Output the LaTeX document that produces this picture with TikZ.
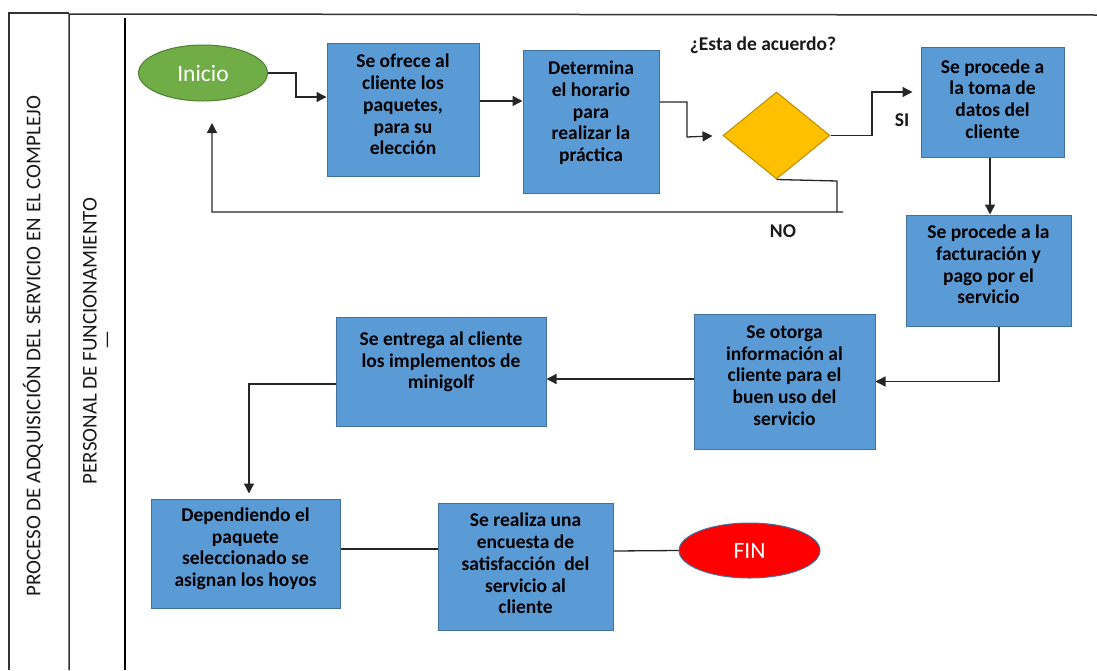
\documentclass[tikz,border=0pt]{standalone}
\usepackage{fontspec}
\setmainfont{Carlito}
\usetikzlibrary{shapes.geometric,arrows.meta}
\definecolor{boxblue}{HTML}{5B9BD5}
\definecolor{boxline}{HTML}{41719C}
\definecolor{startgreen}{HTML}{70AD47}
\definecolor{startline}{HTML}{507E32}
\definecolor{decyellow}{HTML}{FFC000}
\definecolor{decline}{HTML}{BC8C00}
\definecolor{endred}{HTML}{FF0000}
\definecolor{laneline}{HTML}{333333}
\tikzset{
  procbox/.style={rectangle, draw=boxline, fill=boxblue, line width=1pt, inner sep=0pt,
    align=center, text=black, font=\bfseries\fontsize{19.5}{21.7}\selectfont},
  term/.style={ellipse, line width=1pt, inner sep=0pt, text=white,
    font=\fontsize{23.5}{26}\selectfont},
  conn/.style={line width=1.3pt, draw=black!85},
  arr/.style={conn, -{Triangle[length=10pt,width=10pt]}},
  lbl/.style={font=\bfseries\fontsize{19.5}{21.7}\selectfont, text=black!90, inner sep=0pt},
  lanetext/.style={rotate=90, font=\fontsize{21}{25}\selectfont, text=black!90, inner sep=0pt},
  lane/.style={line width=1.5pt, draw=laneline}
}
\begin{document}
\begin{tikzpicture}[x=1pt,y=-1pt]
\useasboundingbox (0,0) rectangle (1097,670);
% lanes
\draw[lane] (9,670) -- (9,13) -- (69,13);
\draw[lane] (69,670) -- (69,14) -- (1097,15);
\draw[line width=2.6pt, black] (125,18) -- (125,670);
\node[lanetext] (lane1) at (33,346) {PROCESO DE ADQUISICIÓN DEL SERVICIO EN EL COMPLEJO};
\node[lanetext] (lane2) at (90,341) {PERSONAL DE FUNCIONAMIENTO};
\node[lanetext] (lane2b) at (110,340) {—};
% nodes
\node[term, draw=startline, fill=startgreen, minimum width=129pt, minimum height=56pt] (ini) at (203,73) {Inicio};
\node[procbox, text depth=10pt, minimum width=152pt, minimum height=133pt] (b1) at (403,109.5) {Se ofrece al\\cliente los\\paquetes,\\para su\\elección};
\node[procbox, text depth=20.5pt, minimum width=136pt, minimum height=143pt] (b2) at (591,121.5) {Determina\\el horario\\para\\realizar la\\práctica};
\node[diamond, draw=decline, fill=decyellow, line width=1pt, inner sep=0pt, minimum width=107pt, minimum height=87pt] (dec) at (776.5,135.5) {};
\node[procbox, text depth=6pt, minimum width=143pt, minimum height=110pt] (b3) at (992.5,102) {Se procede a\\la toma de\\datos del\\cliente};
\node[procbox, text depth=12pt, minimum width=165pt, minimum height=111pt] (b4) at (988.5,270.5) {Se procede a la\\facturación y\\pago por el\\servicio};
\node[procbox, text depth=12pt, minimum width=181pt, minimum height=135pt] (b5) at (784.5,381.5) {Se otorga\\información al\\cliente para el\\buen uso del\\servicio};
\node[procbox, text depth=22.5pt, minimum width=210pt, minimum height=109pt] (b6) at (441,371.5) {Se entrega al cliente\\los implementos de\\minigolf};
\node[procbox, text depth=12.5pt, minimum width=189pt, minimum height=109pt] (b7) at (245.5,553.5) {Dependiendo el\\paquete\\seleccionado se\\asignan los hoyos};
\node[procbox, text depth=6pt, minimum width=175pt, minimum height=127pt] (b8) at (525.5,566.5) {Se realiza una\\encuesta de\\satisfacción\ \ del\\servicio al\\cliente};
\node[term, draw=boxline, fill=endred, minimum width=141pt, minimum height=55pt] (fin) at (749.5,550.5) {FIN};
% labels
\node[lbl] (q) at (763,45) {¿Esta de acuerdo?};
\node[lbl] (si) at (902,120) {SI};
\node[lbl] (no) at (783,231) {NO};
% connectors
\draw[arr] (ini.east) -| (296,97) -- (b1.west |- 0,97);
\draw[arr] (b1.east |- 0,101) -- (b2.west |- 0,101);
\draw[arr, shorten >=10pt] (b2.east |- 0,102) -| (687,137) -- (dec.west);
\draw[arr, shorten >=8pt] (dec.east) -| (872,92) -- (b3.west |- 0,92);
\coordinate (noend) at (212,123);
\draw[arr] (dec.south) -- (837,181) -- (837,212) -- (843,212) -- (212,212) -- (noend);
\draw[arr] (b3.south -| 990,0) -- (b4.north -| 990,0);
\draw[arr] (b4.south -| 999,0) |- (b5.east);
\draw[arr] (b5.west |- 0,379) -- (b6.east |- 0,379);
\draw[arr, shorten >=5pt] (b6.west |- 0,384) -| (b7.north -| 249,0);
\draw[conn] (b7.east |- 0,549) -- (b8.west |- 0,549);
\draw[conn] (b8.east |- 0,551) -- (fin.west);
\end{tikzpicture}
\end{document}
